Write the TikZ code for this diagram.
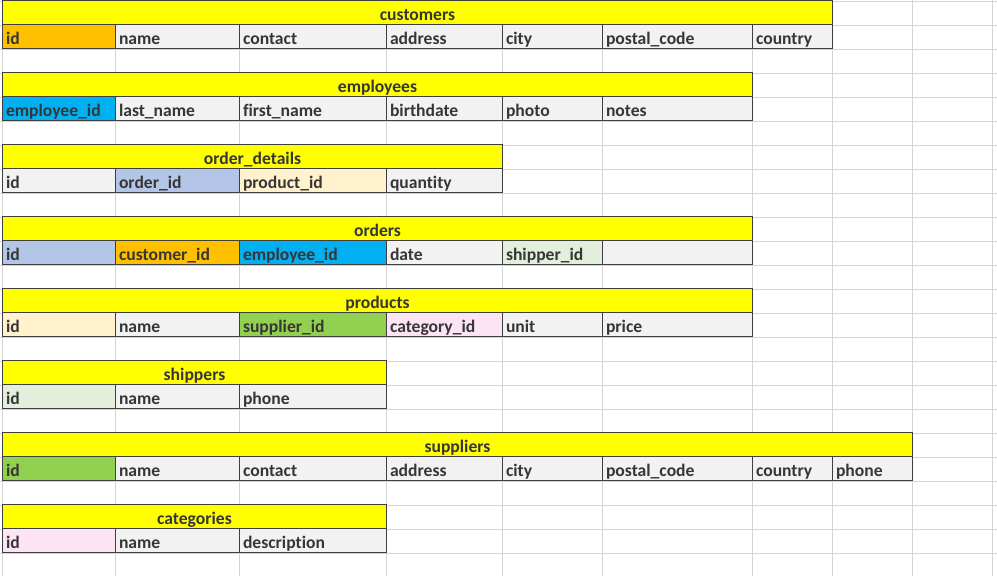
\documentclass[tikz,border=0pt]{standalone}
\usepackage{fontspec}
\setmainfont{Carlito}[Ligatures=NoCommon]
\definecolor{cyel}{HTML}{FFFF00}
\definecolor{cgray}{HTML}{F2F2F2}
\definecolor{corange}{HTML}{FFC000}
\definecolor{cblue}{HTML}{00B0F0}
\definecolor{cperi}{HTML}{B4C6E7}
\definecolor{clyel}{HTML}{FFF2CC}
\definecolor{clgreen}{HTML}{E2EFDA}
\definecolor{cgreen}{HTML}{92D050}
\definecolor{cpink}{HTML}{FCE4F4}
\definecolor{cgrid}{HTML}{D4D4D4}
\definecolor{cborder}{HTML}{3F3F3F}
\definecolor{ctext}{HTML}{363636}
\tikzset{
  cellbox/.style={draw=cborder, line width=1pt, anchor=south west,
    minimum height=24pt, inner xsep=3.5pt, inner ysep=0pt,
    text height=18pt, text depth=3pt, align=left, text=ctext,
    font=\fontsize{17.6}{20}\selectfont\bfseries},
  titlebox/.style={cellbox, fill=cyel, align=center},
  gridline/.style={draw=cgrid, line width=1pt}
}
\newcommand{\tabletitle}[4]{% name, bottom y, right x, text
  \pgfmathsetmacro\tw{#3-2-7}
  \node[titlebox, minimum width={#3-2}, text width=\tw pt] (#1-title) at (2,#2) {#4};
}
\begin{document}
\begin{tikzpicture}[x=1pt,y=-1pt]
\useasboundingbox[fill=white] (0,0) rectangle (997,576);
% spreadsheet grid
\foreach \gx in {2,115,239,386,502,602,752,832,912,992}
  \draw[gridline] (\gx,0) -- (\gx,576);
\foreach \gy in {1,25,...,577}
  \draw[gridline] (0,\gy) -- (997,\gy);
% customers
\tabletitle{cust}{25}{832}{customers}
\foreach \a/\b/\f/\t [count=\i] in {2/115/corange/id,115/239/cgray/name,239/386/cgray/contact,386/502/cgray/address,502/602/cgray/city,602/752/cgray/postal\_code,752/832/cgray/country}{
  \pgfmathsetmacro\tw{\b-\a-7}
  \node[cellbox, fill=\f, minimum width={\b-\a}, text width=\tw pt] (cust-\i) at (\a,49) {\t};
}
% employees
\tabletitle{emp}{97}{752}{employees}
\foreach \a/\b/\f/\t [count=\i] in {2/115/cblue/employee\_id,115/239/cgray/last\_name,239/386/cgray/first\_name,386/502/cgray/birthdate,502/602/cgray/photo,602/752/cgray/notes}{
  \pgfmathsetmacro\tw{\b-\a-7}
  \node[cellbox, fill=\f, minimum width={\b-\a}, text width=\tw pt] (emp-\i) at (\a,121) {\t};
}
% order_details
\tabletitle{od}{169}{502}{order\_details}
\foreach \a/\b/\f/\t [count=\i] in {2/115/cgray/id,115/239/cperi/order\_id,239/386/clyel/product\_id,386/502/cgray/quantity}{
  \pgfmathsetmacro\tw{\b-\a-7}
  \node[cellbox, fill=\f, minimum width={\b-\a}, text width=\tw pt] (od-\i) at (\a,193) {\t};
}
% orders
\tabletitle{ord}{241}{752}{orders}
\foreach \a/\b/\f/\t [count=\i] in {2/115/cperi/id,115/239/corange/customer\_id,239/386/cblue/employee\_id,386/502/cgray/date,502/602/clgreen/shipper\_id,602/752/cgray/{}}{
  \pgfmathsetmacro\tw{\b-\a-7}
  \node[cellbox, fill=\f, minimum width={\b-\a}, text width=\tw pt] (ord-\i) at (\a,265) {\t};
}
% products
\tabletitle{prod}{313}{752}{products}
\foreach \a/\b/\f/\t [count=\i] in {2/115/clyel/id,115/239/cgray/name,239/386/cgreen/supplier\_id,386/502/cpink/category\_id,502/602/cgray/unit,602/752/cgray/price}{
  \pgfmathsetmacro\tw{\b-\a-7}
  \node[cellbox, fill=\f, minimum width={\b-\a}, text width=\tw pt] (prod-\i) at (\a,337) {\t};
}
% shippers
\tabletitle{ship}{385}{386}{shippers}
\foreach \a/\b/\f/\t [count=\i] in {2/115/clgreen/id,115/239/cgray/name,239/386/cgray/phone}{
  \pgfmathsetmacro\tw{\b-\a-7}
  \node[cellbox, fill=\f, minimum width={\b-\a}, text width=\tw pt] (ship-\i) at (\a,409) {\t};
}
% suppliers
\tabletitle{sup}{457}{912}{suppliers}
\foreach \a/\b/\f/\t [count=\i] in {2/115/cgreen/id,115/239/cgray/name,239/386/cgray/contact,386/502/cgray/address,502/602/cgray/city,602/752/cgray/postal\_code,752/832/cgray/country,832/912/cgray/phone}{
  \pgfmathsetmacro\tw{\b-\a-7}
  \node[cellbox, fill=\f, minimum width={\b-\a}, text width=\tw pt] (sup-\i) at (\a,481) {\t};
}
% categories
\tabletitle{cat}{529}{386}{categories}
\foreach \a/\b/\f/\t [count=\i] in {2/115/cpink/id,115/239/cgray/name,239/386/cgray/description}{
  \pgfmathsetmacro\tw{\b-\a-7}
  \node[cellbox, fill=\f, minimum width={\b-\a}, text width=\tw pt] (cat-\i) at (\a,553) {\t};
}
\end{tikzpicture}
\end{document}
